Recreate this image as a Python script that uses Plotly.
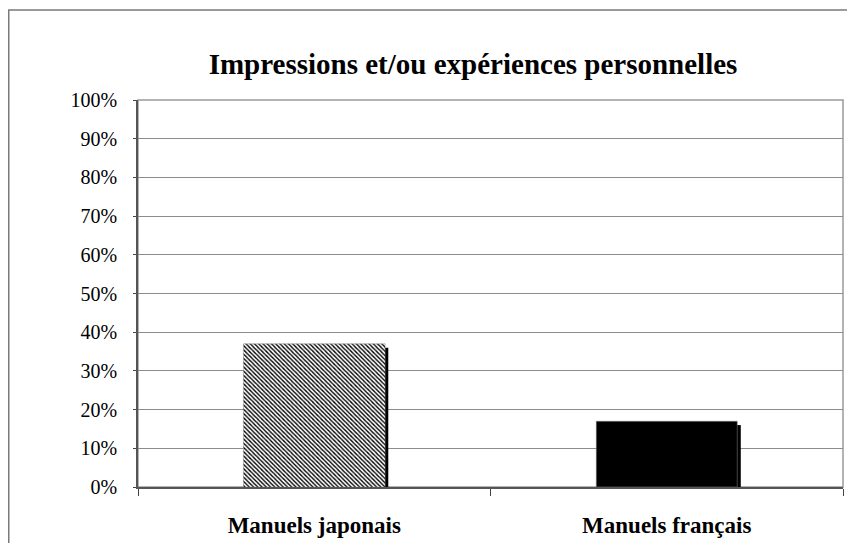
import plotly.graph_objects as go

categories = ["Manuels japonais", "Manuels français"]
values = [37, 17]
shadow_values = [36, 16]
tick_vals = [0, 10, 20, 30, 40, 50, 60, 70, 80, 90, 100]
tick_text = ["0%", "10%", "20%", "30%", "40%", "50%", "60%", "70%", "80%", "90%", "100%"]
title_text = "Impressions et/ou expériences personnelles"

FONT = "Liberation Serif, Times New Roman, serif"

W, H = 847, 535
L, R, T, B = 130, 12, 92, 56
PW = W - L - R
PH = H - T - B

fig = go.Figure()

# thin dark "depth" strip on the right side of each bar
fig.add_trace(go.Bar(
    x=categories, y=shadow_values,
    width=0.012, offset=0.198,
    marker=dict(color="black", line=dict(width=0)),
    hoverinfo="skip", showlegend=False,
))

# Japanese textbooks: hatched bar
fig.add_trace(go.Bar(
    x=[categories[0]], y=[values[0]],
    width=0.402, offset=-0.201,
    marker=dict(
        color="white",
        pattern=dict(shape="\\", size=3, solidity=0.45,
                     fgcolor="black", bgcolor="white", fillmode="replace"),
        line=dict(width=0.5, color="#888888"),
    ),
    showlegend=False,
))

# French textbooks: solid black bar
fig.add_trace(go.Bar(
    x=[categories[1]], y=[values[1]],
    width=0.400, offset=-0.200,
    marker=dict(color="black", line=dict(width=0.5, color="#888888")),
    showlegend=False,
))

fig.update_layout(
    width=W, height=H,
    margin=dict(l=L, r=R, t=T, b=B, autoexpand=False),
    paper_bgcolor="white", plot_bgcolor="white",
    barmode="overlay",
    title=dict(text="<b>" + title_text + "</b>", x=465 / W, xanchor="center",
               y=1 - 56 / H, yanchor="middle",
               font=dict(family=FONT, size=29, color="black")),
    font=dict(family=FONT, color="black"),
    showlegend=False,
)

fig.update_xaxes(
    type="category", range=[-0.5, 1.5], automargin=False,
    showline=True, linecolor="#555555", linewidth=1.5,
    ticks="outside", tickson="boundaries", ticklen=7, tickcolor="#444444",
    tickfont=dict(family=FONT, size=23, color="black"),
    tickprefix="<b>", ticksuffix="</b>",
    ticklabelstandoff=17,
    showgrid=False,
)
fig.update_yaxes(
    range=[0, 100], tickvals=tick_vals, ticktext=tick_text, automargin=False,
    showline=True, linecolor="#555555", linewidth=1.5,
    ticks="outside", ticklen=3, tickcolor="#444444",
    tickfont=dict(family=FONT, size=20, color="black"),
    ticklabelstandoff=12,
    showgrid=True, gridcolor="#8c8c8c", gridwidth=1,
    zeroline=False,
)

# plot-area frame (top/right)
fig.add_shape(type="rect", xref="paper", yref="paper", x0=0, y0=0, x1=1, y1=1,
              line=dict(color="#9a9a9a", width=1.5), layer="below")
# outer chart border
fig.add_shape(type="rect", xref="paper", yref="paper",
              x0=(0.75 - L) / PW, x1=(W + 20 - L) / PW,
              y0=(PH - (H + 20 - T)) / PH, y1=(PH - (2 - T)) / PH,
              line=dict(color="#7a7a7a", width=1.5))

fig.write_html("out.html")
